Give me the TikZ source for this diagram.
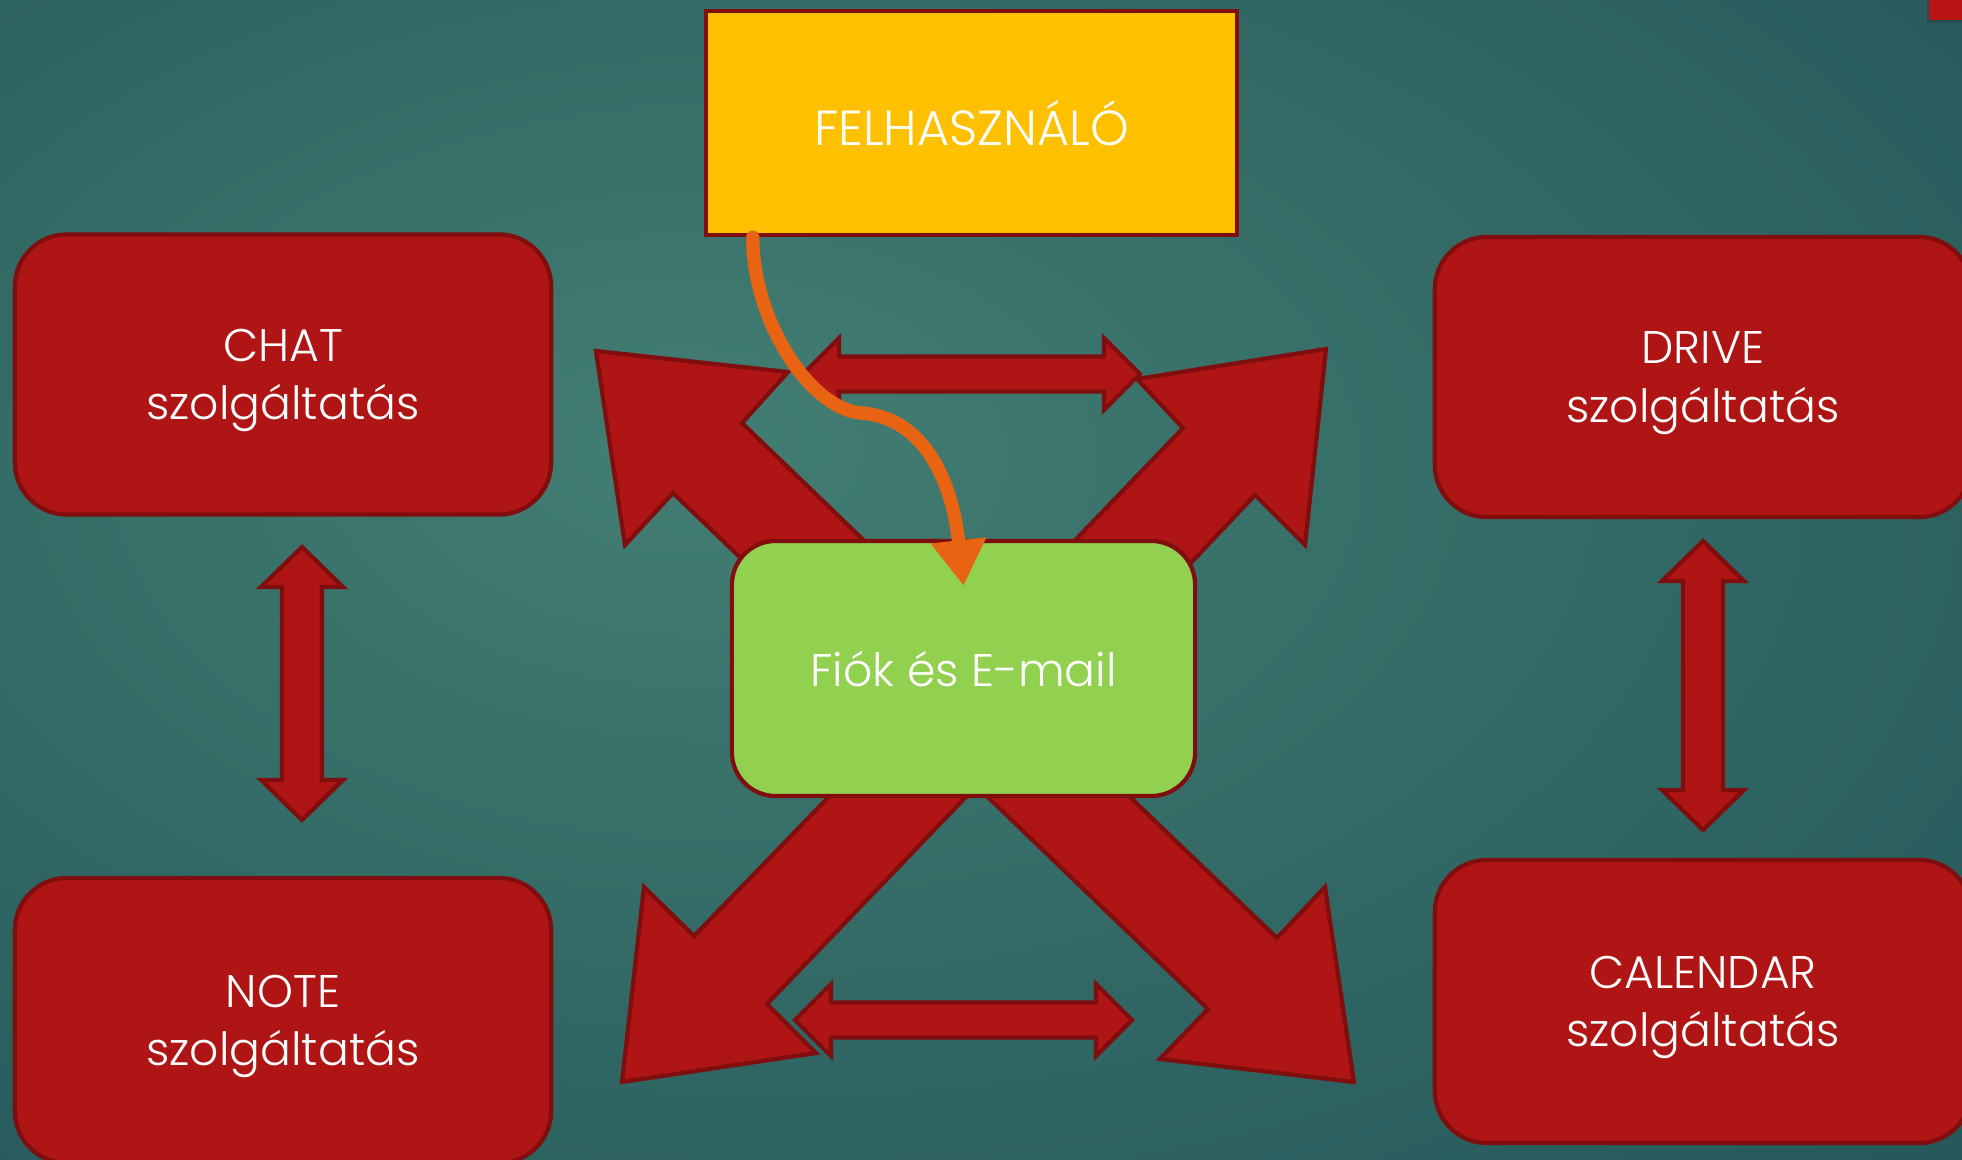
\documentclass[tikz,border=0pt]{standalone}
\usepackage{fontspec}
\setmainfont{Poppins}[UprightFont=* Light]
\usetikzlibrary{arrows.meta}

\definecolor{bglight}{RGB}{67,126,115}
\definecolor{bgmid}{RGB}{45,99,97}
\definecolor{bgdark}{RGB}{20,58,74}
\definecolor{svcred}{RGB}{175,21,20}
\definecolor{boxline}{RGB}{128,14,14}
\definecolor{useryellow}{RGB}{255,192,0}
\definecolor{acctgreen}{RGB}{146,208,80}
\definecolor{floworange}{RGB}{233,100,18}
\pgfdeclareradialshading{slidebg}{\pgfpoint{-8bp}{6bp}}{color(0bp)=(bglight); color(28bp)=(bgmid); color(72bp)=(bgdark)}

% vertical double arrow: x, top tip, bottom tip
\newcommand\vduo[3]{\filldraw[blk] (#1,#2) -- (#1+41,#2+40) -- (#1+20,#2+40) -- (#1+20,#3-40) -- (#1+41,#3-40) -- (#1,#3) -- (#1-41,#3-40) -- (#1-20,#3-40) -- (#1-20,#2+40) -- (#1-41,#2+40) -- cycle;}
% horizontal double arrow: y, left tip, right tip
\newcommand\hduo[3]{\filldraw[blk] (#2,#1) -- (#2+36,#1-36) -- (#2+36,#1-17.5) -- (#3-36,#1-17.5) -- (#3-36,#1-36) -- (#3,#1) -- (#3-36,#1+36) -- (#3-36,#1+17.5) -- (#2+36,#1+17.5) -- (#2+36,#1+36) -- cycle;}

\tikzset{
  box/.style={draw=boxline, line width=1.2pt, text=white, align=center, inner sep=0pt,
    font=\fontsize{13}{16.5}\selectfont},
  svc/.style={box, fill=svcred, rounded corners=0.52cm, minimum width=5.36cm, minimum height=2.8cm, text depth=0pt},
  blk/.style={fill=svcred, draw=boxline, line width=1.2pt, line join=miter},
  flow/.style={draw=floworange, line width=3.8pt, line cap=round, -{Triangle[width=15pt,length=13pt]}}
}

\begin{document}
\begin{tikzpicture}[x=0.01cm,y=-0.01cm]

\clip (0,0) rectangle (1962,1160);
\shade[shading=slidebg] (0,0) rectangle (1962,1160);

% corner mark
\fill[black,opacity=.15] (1927,0) rectangle (1962,23);
\fill[svcred!90!red] (1929,0) rectangle (1962,20);

% big arrows from the account box
\filldraw[blk] (880,556) -- (742,423) -- (788,372) -- (596,351) -- (625,545) -- (673,493) -- (770,586) -- cycle;
\filldraw[blk] (1060,556) -- (1183,428) -- (1137,379) -- (1326,349) -- (1305,545) -- (1255,495) -- (1170,585) -- cycle;
\filldraw[blk] (848,777) -- (694,936) -- (644,887) -- (622,1082) -- (816,1053) -- (767,1004) -- (985,777) -- cycle;
\filldraw[blk] (967,777) -- (1208,1009) -- (1160,1059) -- (1354,1082) -- (1325,887) -- (1277,938) -- (1109,777) -- cycle;

\hduo{374}{803}{1140}
\hduo{1020}{795}{1132}
\vduo{302}{547}{820}
\vduo{1703}{541}{830}

\node[box, fill=useryellow, minimum width=5.31cm, minimum height=2.24cm, font=\fontsize{14}{16.5}\selectfont] (user) at (971.5,123) {FELHASZNÁLÓ};
\node[box, fill=acctgreen, rounded corners=0.44cm, minimum width=4.63cm, minimum height=2.55cm] (acct) at (963.5,668.5) {Fiók és E-mail};

\node[svc] (chat) at (283,374.5) {CHAT\\szolgáltatás};
\node[svc] (drive) at (1703,377) {DRIVE\\szolgáltatás};
\node[svc, minimum height=2.85cm] (note) at (283,1020.5) {NOTE\\szolgáltatás};
\node[svc, minimum height=2.83cm] (cal) at (1703,1001.5) {CALENDAR\\szolgáltatás};

\coordinate (bend) at (861,413);
\draw[flow] ([xshift=0.49cm]user.south west) .. controls +(0,85) and +(-50,-4) .. (bend)
  .. controls +(60,4) and +(-12,-110) .. ([yshift=-0.47cm]acct.north);

\end{tikzpicture}
\end{document}
